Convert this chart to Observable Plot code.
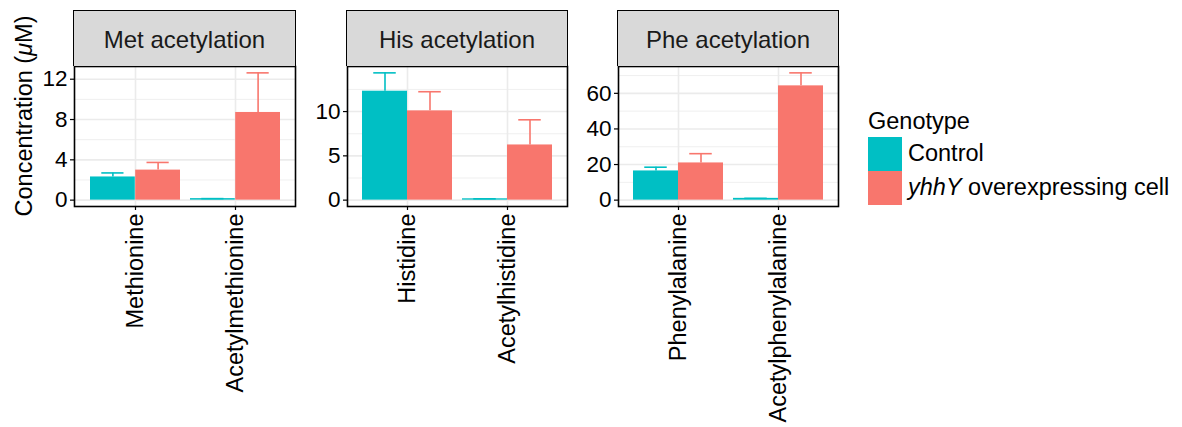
<!DOCTYPE html>
<html>
<head>
<meta charset="utf-8">
<script src="https://cdn.jsdelivr.net/npm/d3@7"></script>
<script src="https://cdn.jsdelivr.net/npm/@observablehq/plot@0.6"></script>
<style>
  html, body { margin: 0; padding: 0; background: #fff; }
  #chart { position: relative; width: 1182px; height: 427px; overflow: hidden;
    font-family: "Liberation Sans", Arial, Helvetica, sans-serif; color: #000; }
  .panel { position: absolute; top: 0; }
  .strip { position: absolute; top: 10px; height: 56px; box-sizing: border-box;
    border: 1.5px solid #000; border-bottom: none; background: #D9D9D9; color: #1A1A1A;
    font-size: 24px; display: flex; align-items: center; justify-content: center; padding-top: 2px; }
  .ytitle { position: absolute; left: 24px; top: 116px; font-size: 23.5px; white-space: nowrap;
    transform: translate(-50%, -50%) rotate(-90deg); }
  .legend-title { position: absolute; left: 868px; top: 108px; font-size: 23.5px; }
  .key { position: absolute; left: 868px; width: 34px; height: 34px; }
  .key-label { position: absolute; left: 908px; font-size: 23.5px; white-space: nowrap; }
</style>
</head>
<body>
<div id="chart"></div>
<script>
// ---- data ----
const panelTitles = ["Met acetylation", "His acetylation", "Phe acetylation"];
const genotypes = ["Control", "yhhY overexpressing cell"];
const genotypeColors = ["#00BFC4", "#F8766D"];

const metCompounds = ["Methionine", "Acetylmethionine"];
const metControl = [2.3, 0.15];
const metControlErr = [0.4, 0];
const metYhhY = [2.98, 8.7];
const metYhhYErr = [0.76, 3.93];
const metTicks = [0, 4, 8, 12];

const hisCompounds = ["Histidine", "Acetylhistidine"];
const hisControl = [12.3, 0.15];
const hisControlErr = [2.07, 0];
const hisYhhY = [10.08, 6.23];
const hisYhhYErr = [2.16, 2.84];
const hisTicks = [0, 5, 10];

const pheCompounds = ["Phenylalanine", "Acetylphenylalanine"];
const pheControl = [16.4, 1.0];
const pheControlErr = [2.1, 0];
const pheYhhY = [20.9, 64.2];
const pheYhhYErr = [5.2, 7.3];
const pheTicks = [0, 20, 40, 60];

// ---- layout ----
const H = 427, MT = 66, MB = 221;
const chart = document.getElementById("chart");

function makePanel(title, compounds, control, controlErr, yhhy, yhhyErr, ticks, left, width, marginLeft, marginRight) {
  const rows = [];
  compounds.forEach((c, i) => {
    rows.push({compound: c, genotype: genotypes[0], value: control[i], upper: control[i] + controlErr[i]});
    rows.push({compound: c, genotype: genotypes[1], value: yhhy[i], upper: yhhy[i] + yhhyErr[i]});
  });
  const max = d3.max(rows, r => r.upper);
  const domain = [-0.05 * max, 1.05 * max];
  const innerW = width - marginLeft - marginRight;
  const step = innerW / 2.2;
  const bw = 0.9 * step, half = bw / 2, q = bw / 4;
  const tstep = ticks[1] - ticks[0];
  const minor = d3.range(ticks[0] + tstep / 2, domain[1], tstep);
  const g0 = rows.filter(r => r.genotype === genotypes[0]);
  const g1 = rows.filter(r => r.genotype === genotypes[1]);

  const svg = Plot.plot({
    width, height: H, marginLeft, marginRight, marginTop: MT, marginBottom: MB,
    style: {fontFamily: "'Liberation Sans', Arial, Helvetica, sans-serif", fontSize: "22px", color: "#000", background: "transparent", overflow: "visible"},
    x: {type: "band", domain: compounds, paddingInner: 0.1, paddingOuter: 0.15},
    y: {domain},
    color: {domain: genotypes, range: genotypeColors},
    marks: [
      Plot.gridY(minor, {stroke: "#EBEBEB", strokeOpacity: 1, strokeWidth: 0.8}),
      Plot.gridY(ticks, {stroke: "#EBEBEB", strokeOpacity: 1, strokeWidth: 1.6}),
      Plot.gridX(compounds, {stroke: "#EBEBEB", strokeOpacity: 1, strokeWidth: 1.6}),
      Plot.barY(g0, {x: "compound", y: "value", fill: "genotype", insetLeft: 0, insetRight: half}),
      Plot.barY(g1, {x: "compound", y: "value", fill: "genotype", insetLeft: half, insetRight: 0}),
      Plot.ruleX(g0, {x: "compound", y1: "value", y2: "upper", stroke: "genotype", strokeWidth: 1.6, dx: -q}),
      Plot.ruleX(g1, {x: "compound", y1: "value", y2: "upper", stroke: "genotype", strokeWidth: 1.6, dx: q}),
      Plot.tickY(g0, {x: "compound", y: "upper", stroke: "genotype", strokeWidth: 1.6, dx: -q, inset: 3 * bw / 8}),
      Plot.tickY(g1, {x: "compound", y: "upper", stroke: "genotype", strokeWidth: 1.6, dx: q, inset: 3 * bw / 8}),
      Plot.frame({stroke: "#000", strokeWidth: 1.6}),
      Plot.axisY(ticks, {tickSize: 4, tickPadding: 3, label: null, fontSize: 22.5, strokeWidth: 1.2}),
      Plot.axisX({tickSize: 4, tickPadding: 3, tickRotate: -90, label: null, fontSize: 23.5, strokeWidth: 1.2})
    ]
  });
  const wrap = document.createElement("div");
  wrap.className = "panel";
  wrap.style.left = left + "px";
  wrap.appendChild(svg);
  chart.appendChild(wrap);

  const strip = document.createElement("div");
  strip.className = "strip";
  strip.style.left = (left + marginLeft - 0.75) + "px";
  strip.style.width = (innerW + 1.5) + "px";
  strip.textContent = title;
  chart.appendChild(strip);
}

makePanel(panelTitles[0], metCompounds, metControl, metControlErr, metYhhY, metYhhYErr, metTicks, 0, 300, 74, 5);
makePanel(panelTitles[1], hisCompounds, hisControl, hisControlErr, hisYhhY, hisYhhYErr, hisTicks, 300, 270, 47, 3);
makePanel(panelTitles[2], pheCompounds, pheControl, pheControlErr, pheYhhY, pheYhhYErr, pheTicks, 570, 272, 48, 4);

// y-axis title
const yt = document.createElement("div");
yt.className = "ytitle";
yt.innerHTML = 'Concentration (<i>μ</i>M)';
chart.appendChild(yt);

// legend
const lt = document.createElement("div");
lt.className = "legend-title";
lt.textContent = "Genotype";
chart.appendChild(lt);
genotypes.forEach((g, i) => {
  const k = document.createElement("div");
  k.className = "key";
  k.style.top = (137 + i * 34) + "px";
  k.style.background = genotypeColors[i];
  chart.appendChild(k);
  const l = document.createElement("div");
  l.className = "key-label";
  l.style.top = (140 + i * 34) + "px";
  if (i === 1) {
    l.innerHTML = '<i>yhhY</i> overexpressing cell';
  } else {
    l.textContent = g;
  }
  chart.appendChild(l);
});
</script>
</body>
</html>
